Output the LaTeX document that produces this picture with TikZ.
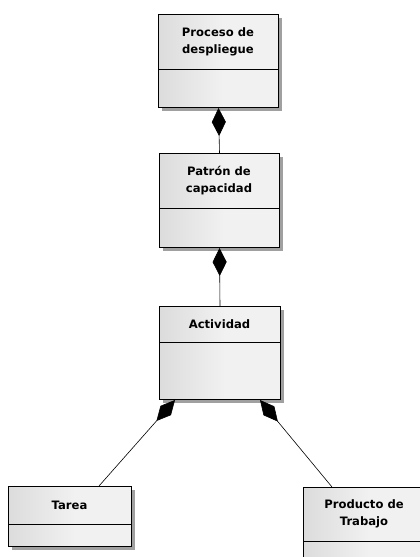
\documentclass[tikz,border=0pt]{standalone}
\usepackage{fontspec}
\setmainfont{DejaVu Sans}
\usetikzlibrary{arrows.meta,shadows}
\definecolor{fadeA}{HTML}{DCDCDC}
\definecolor{fadeB}{HTML}{F1F1F1}
\definecolor{shadowgray}{HTML}{A0A0A0}
\pgfdeclarehorizontalshading{umlfade}{100bp}{color(0bp)=(fadeA); color(25bp)=(fadeA); color(52bp)=(fadeB); color(100bp)=(fadeB)}
\begin{document}
\begin{tikzpicture}[x=1pt,y=1pt,
  umlbox/.style={draw=black, line width=1pt, anchor=north west, inner sep=0pt,
    shading=umlfade,
    drop shadow={shadow xshift=3pt, shadow yshift=-3pt, fill=shadowgray, opacity=1}},
  label/.style={font=\bfseries\fontsize{11.6}{17}\selectfont, align=center, inner sep=0pt},
  divider/.style={draw=black, line width=1pt},
  comp/.style={draw=black, line width=0.6pt, {Diamond[length=28pt,width=14pt,fill=black]}-}]
  \useasboundingbox (0,0) rectangle (420,-557);
  \clip (0,0) rectangle (420,-557);

  % class boxes
  \node[umlbox, minimum width=120, minimum height=93] (proc) at (158,-14) {};
  \draw[divider] (158,-69) -- (278,-69);
  \node[label] (proct) at (218,-41.5) {Proceso de\\despliegue};

  \node[umlbox, minimum width=120, minimum height=94] (pat) at (159,-153) {};
  \draw[divider] (159,-208) -- (279,-208);
  \node[label] (patt) at (219,-180.5) {Patrón de\\capacidad};

  \node[umlbox, minimum width=121, minimum height=93] (act) at (159,-306) {};
  \draw[divider] (159,-342) -- (280,-342);
  \node[label] (actt) at (219.5,-324) {Actividad};

  \node[umlbox, minimum width=123, minimum height=60] (tarea) at (8,-486) {};
  \draw[divider] (8,-524) -- (131,-524);
  \node[label] (tareat) at (69.5,-505) {Tarea};

  \node[umlbox, minimum width=122, minimum height=93] (prod) at (303,-487) {};
  \draw[divider] (303,-541) -- (425,-541);
  \node[label] (prodt) at (364,-514) {Producto de\\Trabajo};

  % composition connectors
  \draw[comp] (proc.south) -- (pat.north);
  \draw[comp] (pat.south) -- (act.north);
  \draw[comp] ([xshift=16pt]act.south west) -- ([xshift=91pt]tarea.north west);
  \draw[comp] ([xshift=-21pt]act.south east) -- ([xshift=29pt]prod.north west);
\end{tikzpicture}
\end{document}
